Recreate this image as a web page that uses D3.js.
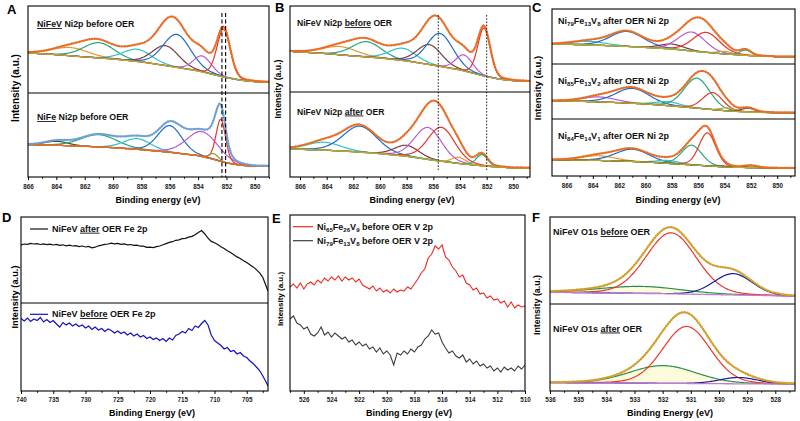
<!DOCTYPE html>
<html><head><meta charset="utf-8">
<script src="https://cdn.jsdelivr.net/npm/d3@7"></script>
<style>body{margin:0;background:#fff}svg{display:block}text{font-family:"Liberation Sans",Arial,sans-serif}</style>
</head><body><svg id="c" width="800" height="421"></svg>
<script>
// ================= DATA =================
// x-axis tick labels
const niTicks = [866,864,862,860,858,856,854,852,850];
const feTicks = [740,735,730,725,720,715,710,705];
const vTicks  = [526,524,522,520,518,516,514,512,510];
const oTicks  = [536,535,534,533,532,531,530,529,528];

// Ni 2p, NiFeV before OER (panels A top and B top): background knots and fitted peaks [centre eV, height, FWHM eV]
const nifevBeforeBgE = [866,864,862,860,858,856,854,853,852,851,850,849];
const nifevBeforeBgV = [40,38.3,36,34,31,26.7,22,18.7,15.3,12.7,11.3,10.7];
const nifevBeforePeaks = [[863,8.3,3.0],[861,15.3,2.6],[858.3,12.3,2.4],[856.3,20,2.2],[855.5,33,2.3],[853.7,16,1.5],[852.2,48,1.1]];

// Ni 2p, NiFe before OER (panel A bottom)
const nifeBeforeBgE = [866,864,862,860,858,856,854,853,852,851,850,849];
const nifeBeforeBgV = [32.3,31.7,30.7,29.3,27.3,24.7,21.3,18,14,11.7,10.7,10.7];
const nifeBeforePeaks = [[864,4,2.0],[861,12.3,3.0],[858.3,10.7,2.3],[856,26.7,2.0],[853.7,25,2.6],[852.4,42,0.8],[852.9,5.7,0.8]];

// Ni 2p, NiFeV after OER (panel B bottom)
const nifevAfterBgE = [866.75,864,862,860,858,856,854,852,850,848.75];
const nifevAfterBgV = [28,26.7,25.3,23.3,20.7,16.7,13.3,10.7,9,9];
const nifevAfterPeaks = [[864.2,8,3.0],[861.5,26,3.0],[858,11,2.2],[856.4,32,2.4],[855.4,34,2.4],[854.1,6.3,1.2],[852.35,11.3,1.0]];

// Ni 2p after OER, three compositions (panel C)
const ni79BgE = [867.1,866,862,858,856,854,852,850,848.6];
const ni79BgV = [20,19.7,18,15,12.3,10,8.3,7.3,7.3];
const ni79Peaks = [[864.3,3.7,3],[861.4,15,3],[858,5,2.2],[856.5,19,2.4],[855.4,20,2.4],[854,2.7,1.2],[852.4,5.3,1.0]];
const ni85BgE = [867.1,864,862,860,858,856,854,852,850,848.6];
const ni85BgV = [18.3,17.3,16.3,15,13,10.7,8.3,6.7,6.3,6.3];
const ni85Peaks = [[863.5,5,3],[861,15,3],[858.3,4,2.2],[856.1,30,2.3],[854.9,17,1.8],[853.8,3,1.2],[852.2,4,1.2]];
const ni84BgE = [867.1,864,862,860,858,856,854,852,850,848.6];
const ni84BgV = [16.3,15.7,15,14,12.3,10.7,9,8.3,8,8];
const ni84Peaks = [[863.6,4.7,3],[861,12.3,3],[858.3,3,2],[856.5,19.7,1.8],[855.3,33,1.5],[854,1,1],[852,2,1.2]];

// O 1s (panel F)
const o1sBeforeBgE = [536,534,532,530,528,527.3];
const o1sBeforeBgV = [11.7,11,10.3,9.3,8.3,7.7];
const o1sBeforePeaks = [[532.8,7,3.5],[531.7,61,2.1],[529.5,21.3,1.6]];
const o1sAfterBgE = [536,534,532,530,528,527.3];
const o1sAfterBgV = [8.3,8,7.7,7.3,7,7];
const o1sAfterPeaks = [[532,17.7,2.8],[531.15,57,2.0],[529.3,6.3,1.6]];

// Fe 2p raw spectra (panel D) [eV, intensity]
const fe2pAfter = [[740,58.2],[739.5,59.0],[739,58.6],[738.5,59.6],[738,59.0],[737.5,59.4],[737,58.5],[736.5,59.1],[736,58.3],[735.5,58.9],[735,58.0],[734.5,58.6],[734,57.6],[733.5,58.2],[733,57.1],[732.5,57.9],[732,57.0],[731.5,57.4],[731,56.4],[730.5,57.0],[730,56.0],[729.5,56.6],[729,55.2],[728.5,55.8],[728,57.2],[727.5,57.8],[727,58.6],[726.5,59.0],[726,59.8],[725.5,59.2],[725,59.6],[724.5,58.7],[724,59.1],[723.5,58.2],[723,58.5],[722.5,57.6],[722,57.9],[721.5,56.8],[721,56.9],[720.5,55.7],[720,55.9],[719.5,55.4],[719,56.3],[718.5,57.0],[718,58.2],[717.5,59.4],[717,60.6],[716.5,61.3],[716,62.7],[715.5,63.2],[715,64.3],[714.5,64.7],[714,65.8],[713.5,66.6],[713,68.3],[712.5,70.6],[712,72.4],[711.5,69.0],[711,64.8],[710.5,61.6],[710,60.2],[709.5,58.4],[709,56.3],[708.5,54.6],[708,52.2],[707.5,50.4],[707,48.3],[706.5,46.1],[706,44.6],[705.5,42.3],[705,40.6],[704.5,38.2],[704,36.1],[703.5,33.4],[703,30.2],[702.5,25.5],[702,17.0],[701.7,12.0]];
const fe2pBefore = [[740,72.5],[739.5,70.0],[739,73.0],[738.5,69.5],[738,72.0],[737.5,70.5],[737,73.5],[736.5,69.0],[736,71.5],[735.5,68.5],[735,70.5],[734.5,67.0],[734,64.0],[733.5,68.5],[733,66.0],[732.5,68.0],[732,65.0],[731.5,67.0],[731,64.5],[730.5,66.0],[730,63.0],[729.5,65.0],[729,61.5],[728.5,64.0],[728,61.0],[727.5,62.5],[727,59.5],[726.5,62.0],[726,60.5],[725.5,58.0],[725,60.0],[724.5,57.5],[724,59.0],[723.5,56.0],[723,58.0],[722.5,55.0],[722,57.0],[721.5,54.0],[721,55.5],[720.5,52.5],[720,54.0],[719.5,51.5],[719,53.0],[718.5,50.5],[718,52.5],[717.5,49.5],[717,53.0],[716.5,51.0],[716,55.5],[715.5,57.0],[715,59.5],[714.5,58.0],[714,62.5],[713.5,60.5],[713,65.0],[712.5,63.5],[712,67.5],[711.5,70.5],[711,66.0],[710.5,56.0],[710,50.5],[709.5,48.0],[709,45.5],[708.5,42.0],[708,43.5],[707.5,39.5],[707,40.5],[706.5,37.0],[706,38.5],[705.5,35.0],[705,33.5],[704.5,30.0],[704,27.5],[703.5,24.0],[703,20.5],[702.5,15.0],[702,9.0],[701.7,5.0]];

// V 2p raw spectra (panel E) [eV, intensity]
const v2pNi65 = [[527,104],[526.75,107],[526.5,103],[526.25,108],[526,102],[525.75,107],[525.5,109],[525.25,106],[525,111],[524.75,108],[524.5,113],[524.25,110],[524,114],[523.75,111],[523.5,115],[523.25,110],[523,114],[522.75,111],[522.5,113],[522.25,109],[522,112],[521.75,106],[521.5,104],[521.25,102],[521,105],[520.75,100],[520.5,103],[520.25,99],[520,101],[519.75,98],[519.5,102],[519.25,99],[519,101],[518.75,100],[518.5,104],[518.25,102],[518,107],[517.75,112],[517.5,118],[517.25,122],[517,133],[516.75,137],[516.5,145],[516.25,142],[516,146],[515.75,134],[515.5,131],[515.25,124],[515,120],[514.75,114],[514.5,116],[514.25,108],[514,106],[513.75,101],[513.5,103],[513.25,97],[513,98],[512.75,93],[512.5,95],[512.25,91],[512,92],[511.75,88],[511.5,90],[511.25,84],[511,89],[510.75,83],[510.5,86],[510.25,84],[510,85]];
const v2pNi79 = [[527,72],[526.75,75],[526.5,68],[526.25,66],[526,62],[525.75,64],[525.5,57],[525.25,55],[525,58],[524.75,64],[524.5,56],[524.25,59],[524,54],[523.75,58],[523.5,55],[523.25,52],[523,54],[522.75,49],[522.5,51],[522.25,46],[522,49],[521.75,45],[521.5,47],[521.25,42],[521,44],[520.75,39],[520.5,43],[520.25,37],[520,40],[519.75,36],[519.5,26],[519.25,38],[519,36],[518.75,40],[518.5,37],[518.25,42],[518,39],[517.75,44],[517.5,46],[517.25,52],[517,55],[516.75,61],[516.5,57],[516.25,58],[516,49],[515.75,43],[515.5,38],[515.25,40],[515,35],[514.75,33],[514.5,36],[514.25,29],[514,32],[513.75,27],[513.5,30],[513.25,25],[513,27],[512.75,23],[512.5,25],[512.25,20],[512,23],[511.75,19],[511.5,24],[511.25,21],[511,23],[510.75,20],[510.5,25],[510.25,22],[510,26]];

// vertical guide lines (eV)
const aGuides = [852.32, 852.06];
const bGuides = [855.63, 852.0];

// ================= STYLE / LAYOUT =================
const C = {orange:"#f26a1b", olive:"#b3ad2e", red:"#ea3429", blue:"#1f6cc6", purple:"#b75bd9",
  cyan:"#2fc3c9", green:"#25a87e", brown:"#7a3d3d", gold:"#e09a34", dark:"#4d4a2a", lblue:"#69a2da",
  ogold:"#d6a21e", navy:"#1a1a9c", fgreen:"#2a8f4e", violet:"#c77ad3"};
const svg = d3.select("#c");
const defs = svg.append("defs");

function pv(e,p,eta){const t=(e-p[0])/p[2];return p[1]*((1-eta)*Math.exp(-4*Math.LN2*t*t)+eta/(1+4*t*t));}

let clipN=0;
function makePanel(x0,x1,dom,ys){
  const id="clip"+(clipN++);
  defs.append("clipPath").attr("id",id).append("rect").attr("x",x0).attr("y",ys[0]).attr("width",x1-x0).attr("height",ys[ys.length-1]-ys[0]);
  const x=d3.scaleLinear().domain(dom).range([x0,x1]);
  const g=svg.append("g");
  const plot=g.append("g").attr("clip-path",`url(#${id})`);
  return {x,g,plot,x0,x1,ys};
}
function yScale(top,bot){return d3.scaleLinear().domain([0,bot-top]).range([bot,top]);}
function frame(P){
  const {g,x0,x1,ys}=P;
  g.append("rect").attr("x",x0).attr("y",ys[0]).attr("width",x1-x0).attr("height",ys[ys.length-1]-ys[0]).attr("fill","none").attr("stroke","#000").attr("stroke-width",1.1);
  for(let i=1;i<ys.length-1;i++) g.append("line").attr("x1",x0).attr("x2",x1).attr("y1",ys[i]).attr("y2",ys[i]).attr("stroke","#000").attr("stroke-width",1.1);
}
function xAxis(P,majors,minors,pad){
  const yb=P.ys[P.ys.length-1];
  const a=P.g.append("g").attr("transform",`translate(0,${yb})`).call(d3.axisBottom(P.x).tickValues(majors).tickSize(3).tickPadding(pad).tickFormat(d3.format("d")));
  a.select(".domain").remove();
  a.selectAll("text").attr("font-size",6.3).attr("font-weight","bold").attr("fill","#222").attr("font-family","Liberation Sans, Arial, sans-serif");
  a.selectAll("line").attr("stroke","#000");
  const m=P.g.append("g").attr("transform",`translate(0,${yb})`).call(d3.axisBottom(P.x).tickValues(minors).tickSize(1.8).tickFormat(""));
  m.select(".domain").remove();
  m.selectAll("line").attr("stroke","#000");
}
function titles(xt,xy,xs,yt,yy,ys,txt){
  svg.append("text").attr("x",xt).attr("y",xy).attr("text-anchor","middle").attr("font-size",xs).attr("font-weight","bold").text(txt);
  svg.append("text").attr("transform",`translate(${yt},${yy}) rotate(-90)`).attr("text-anchor","middle").attr("dy","0.35em").attr("font-size",ys).attr("font-weight","bold").text("Intensity (a.u.)");
}
function letter(x,y,t){svg.append("text").attr("x",x).attr("y",y).attr("font-family","Liberation Serif, Times New Roman, serif").attr("font-weight","bold").attr("font-size",13).text(t);}
function label(x,y,size,parts){
  const t=svg.append("text").attr("x",x).attr("y",y).attr("font-size",size).attr("font-weight","bold").attr("fill","#111");
  parts.forEach(p=>{
    const s=t.append("tspan").text(p[0]);
    if(p[1]==="u") s.style("text-decoration","underline");
    if(p[1]==="sub") s.attr("font-size",size*0.68).attr("dy",2.4);
    if(p[2]==="up") s.attr("dy",-2.4);
  });
  return t;
}
function formula(a,b,c,rest){return [["Ni"],[a,"sub"],["Fe",null,"up"],[b,"sub"],["V",null,"up"],[c,"sub"],[rest,null,"up"]];}

function drawFit(P,y,bgE,bgV,peaks,colors,envColor,bgColor,eta,opt){
  opt=opt||{};
  const bg=d3.scaleLinear().domain(bgE).range(bgV);
  const d=P.x.domain();
  const grid=d3.range(d[0],d[1]-0.02,-0.04);
  const line=d3.line().x(q=>P.x(q[0])).y(q=>y(q[1]));
  if(opt.fill!=null){
    const p=peaks[opt.fill];
    const area=d3.area().x(q=>P.x(q[0])).y0(q=>y(bg(q[0]))).y1(q=>y(bg(q[0])+pv(q[0],p,eta)));
    P.plot.append("path").attr("d",area(grid.map(e=>[e]))).attr("fill","#fcfcdc");
  }
  const env=grid.map(e=>[e,bg(e)+d3.sum(peaks,p=>pv(e,p,eta))]);
  P.plot.append("path").attr("d",line(env)).attr("fill","none").attr("stroke","#777").attr("stroke-width",2.4).attr("stroke-dasharray","1,1.6").attr("opacity",0.75);
  peaks.forEach((p,i)=>{
    P.plot.append("path").attr("d",line(grid.map(e=>[e,bg(e)+pv(e,p,eta)]))).attr("fill","none").attr("stroke",colors[i]).attr("stroke-width",1.2);
  });
  P.plot.append("path").attr("d",line(grid.map(e=>[e,bg(e)]))).attr("fill","none").attr("stroke",bgColor).attr("stroke-width",1.3);
  P.plot.append("path").attr("d",line(env)).attr("fill","none").attr("stroke",envColor).attr("stroke-width",1.8);
}
function guides(P,vals,top,bot,dash,w,col){
  vals.forEach(v=>P.g.append("line").attr("x1",P.x(v)).attr("x2",P.x(v)).attr("y1",top).attr("y2",bot).attr("stroke",col).attr("stroke-width",w).attr("stroke-dasharray",dash));
}
const niMinor=[865,863,861,859,857,855,853,851,849];

// ---------- Panel A ----------
const A=makePanel(28,269,[866,849],[6,93,177]);
drawFit(A,yScale(6,93),nifevBeforeBgE,nifevBeforeBgV,nifevBeforePeaks,[C.gold,C.green,C.cyan,C.brown,C.blue,C.purple,C.red],C.orange,C.olive,0.15);
drawFit(A,yScale(93,177),nifeBeforeBgE,nifeBeforeBgV,nifeBeforePeaks,[C.dark,C.green,C.cyan,C.blue,C.purple,C.red,"#a29c1e"],C.lblue,C.orange,0.15);
guides(A,aGuides,13,177,"4,2.5",1.1,"#000");
frame(A); xAxis(A,niTicks,niMinor,5);
titles(158,203,9,15,88,10,"Binding energy (eV)");
letter(7,13.5,"A");
label(37,27,8.8,[["NiFeV","u"],[" Ni2p before OER"]]);
label(37,120,8.8,[["NiFe","u"],[" Ni2p before OER"]]);

// ---------- Panel B ----------
const B=makePanel(290,530,[866.75,848.75],[6,92,177]);
drawFit(B,yScale(6,92),nifevBeforeBgE,nifevBeforeBgV,nifevBeforePeaks,[C.gold,C.green,C.cyan,C.brown,C.blue,C.purple,C.red],C.orange,C.olive,0.15);
drawFit(B,yScale(92,177),nifevAfterBgE,nifevAfterBgV,nifevAfterPeaks,[C.cyan,C.blue,C.brown,C.purple,C.red,C.gold,C.green],C.orange,C.olive,0.15);
guides(B,bGuides,15,170,"1.6,1.6",1,"#222");
frame(B); xAxis(B,niTicks,niMinor,5);
titles(412,203,9,278,89,8.7,"Binding energy (eV)");
letter(275,11.7,"B");
label(297,26,8.6,[["NiFeV Ni2p "],["before","u"],[" OER"]]);
label(297,114.5,8.6,[["NiFeV Ni2p "],["after","u"],[" OER"]]);

// ---------- Panel C ----------
const Cp=makePanel(552,795,[867.1,848.65],[9,64,119,176]);
drawFit(Cp,yScale(9,64),ni79BgE,ni79BgV,ni79Peaks,[C.cyan,C.blue,C.brown,C.purple,C.red,C.gold,C.green],C.orange,C.olive,0.15);
drawFit(Cp,yScale(64,119),ni85BgE,ni85BgV,ni85Peaks,[C.purple,C.blue,C.cyan,C.green,C.red,C.gold,C.brown],C.orange,C.olive,0.15);
drawFit(Cp,yScale(119,176),ni84BgE,ni84BgV,ni84Peaks,[C.gold,C.blue,C.cyan,C.green,C.red,C.brown,C.dark],C.orange,C.olive,0.15);
frame(Cp); xAxis(Cp,niTicks,niMinor,5);
titles(678,203,9,538,88,9.5,"Binding energy (eV)");
letter(532,11.7,"C");
label(558,23.5,9,formula("79","13","8"," after OER Ni 2p"));
label(558,84,9,formula("85","13","2"," after OER Ni 2p"));
label(558,139,9,formula("84","14","1"," after OER Ni 2p"));

// ---------- Panel D ----------
const D=makePanel(21,268,[740,701.7],[217,303,391]);
const lineD=(y)=>d3.line().x(q=>D.x(q[0])).y(q=>y(q[1]));
D.plot.append("path").attr("d",lineD(yScale(217,303))(fe2pAfter)).attr("fill","none").attr("stroke","#111").attr("stroke-width",1.2);
D.plot.append("path").attr("d",lineD(yScale(303,391))(fe2pBefore)).attr("fill","none").attr("stroke","#1212c4").attr("stroke-width",1.2);
frame(D); xAxis(D,feTicks,[737.5,732.5,727.5,722.5,717.5,712.5,707.5,702.5],4);
titles(152,416,9,15,297,9.3,"Binding Energy (eV)");
letter(2,221.7,"D");
svg.append("line").attr("x1",30).attr("x2",48).attr("y1",229).attr("y2",229).attr("stroke","#111").attr("stroke-width",1.2);
label(52,231.7,9,[["NiFeV "],["after","u"],[" OER Fe 2p"]]);
svg.append("line").attr("x1",30).attr("x2",48).attr("y1",314.3).attr("y2",314.3).attr("stroke","#1212c4").attr("stroke-width",1.2);
label(52,317,9,[["NiFeV "],["before","u"],[" OER Fe 2p"]]);

// ---------- Panel E ----------
const E=makePanel(290,525,[527,510],[215,391]);
const yE=yScale(215,391);
const lineE=d3.line().x(q=>E.x(q[0])).y(q=>yE(q[1]));
E.plot.append("path").attr("d",lineE(v2pNi65)).attr("fill","none").attr("stroke","#ea2b24").attr("stroke-width",1.1);
E.plot.append("path").attr("d",lineE(v2pNi79)).attr("fill","none").attr("stroke","#3d3d3d").attr("stroke-width",1.1);
frame(E); xAxis(E,vTicks,[527,525,523,521,519,517,515,513,511],4);
titles(409,416,9,280,299,8,"Binding Energy (eV)");
letter(272,223,"E");
svg.append("line").attr("x1",293).attr("x2",313).attr("y1",226.7).attr("y2",226.7).attr("stroke","#ea2b24").attr("stroke-width",1.2);
label(317,230,9,formula("65","26","9"," before OER V 2p"));
svg.append("line").attr("x1",293).attr("x2",313).attr("y1",240.7).attr("y2",240.7).attr("stroke","#3d3d3d").attr("stroke-width",1.2);
label(317,244,9,formula("79","13","8"," before OER V 2p"));

// ---------- Panel F ----------
const F=makePanel(550,795,[536,527.3],[217,304,391]);
drawFit(F,yScale(217,304),o1sBeforeBgE,o1sBeforeBgV,o1sBeforePeaks,[C.fgreen,C.red,C.navy],C.ogold,C.violet,0.1,{fill:0});
drawFit(F,yScale(304,391),o1sAfterBgE,o1sAfterBgV,o1sAfterPeaks,[C.fgreen,C.red,C.navy],C.ogold,C.violet,0.1,{fill:0});
frame(F); xAxis(F,oTicks,[535.5,534.5,533.5,532.5,531.5,530.5,529.5,528.5,527.5],4);
titles(670,416,9,537,305,8.9,"Binding Energy (eV)");
letter(532,221.7,"F");
label(553,235,9,[["NiFeV O1s "],["before","u"],[" OER"]]);
label(553,331.5,9,[["NiFeV O1s "],["after","u"],[" OER"]]);
</script></body></html>
